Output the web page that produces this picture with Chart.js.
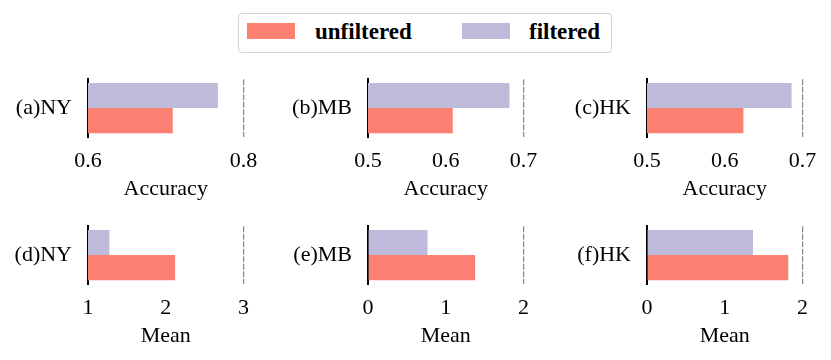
<!DOCTYPE html>
<html>
<head>
<meta charset="utf-8">
<script src="https://cdn.jsdelivr.net/npm/chart.js@4"></script>
<style>
  body { margin: 0; background: #fff; width: 831px; height: 360px; position: relative; overflow: hidden; }
  canvas { position: absolute; }
  #legend { position: absolute; left: 238px; top: 13px; width: 372px; height: 38px;
            border: 1.5px solid #d3d3d3; border-radius: 4px;
            font-family: 'Liberation Serif', 'Times New Roman', serif; font-weight: bold; font-size: 23px; }
  #legend .sw { position: absolute; top: 9px; width: 48px; height: 16px; }
  #legend .lb { position: absolute; top: 2px; line-height: 32px; }
</style>
</head>
<body>
<div id="legend">
  <div class="sw" style="left:8px;background:#fb8072"></div>
  <div class="lb" style="left:76px">unfiltered</div>
  <div class="sw" style="left:223px;background:#bebada"></div>
  <div class="lb" style="left:290px">filtered</div>
</div>
<script>
// panel data, (a)-(f)
var panelLabels = ["(a)NY", "(b)MB", "(c)HK", "(d)NY", "(e)MB", "(f)HK"];
var axisTitles = ["Accuracy", "Accuracy", "Accuracy", "Mean", "Mean", "Mean"];
var unfiltered = [0.709, 0.609, 0.624, 2.12, 1.378, 1.817];
var filtered = [0.767, 0.682, 0.686, 1.275, 0.766, 1.364];
var axisMin = [0.6, 0.5, 0.5, 1, 0, 0];
var axisMax = [0.8, 0.7, 0.7, 3, 2, 2];
var axisStep = [0.2, 0.1, 0.1, 1, 1, 1];

// the y label height (~29px) sets the top of the plot area inside each canvas
var colLeft = [0, 280, 559];
var rowTop = [50, 197];

Chart.defaults.font.family = "'Liberation Serif', 'Times New Roman', serif";
Chart.defaults.font.size = 22;
Chart.defaults.color = "#000";

function makePanel(i) {
  var canvas = document.createElement("canvas");
  canvas.width = 270;
  canvas.height = 155;
  canvas.style.left = colLeft[i % 3] + "px";
  canvas.style.top = rowTop[Math.floor(i / 3)] + "px";
  document.body.appendChild(canvas);

  new Chart(canvas.getContext("2d"), {
    type: "bar",
    data: {
      labels: [panelLabels[i]],
      datasets: [
        { label: "filtered", data: [filtered[i]], backgroundColor: "#bebada" },
        { label: "unfiltered", data: [unfiltered[i]], backgroundColor: "#fb8072" }
      ]
    },
    options: {
      responsive: false,
      animation: false,
      indexAxis: "y",
      categoryPercentage: 0.87,
      barPercentage: 1,
      layout: { padding: { top: 0, right: 26.5, bottom: 0, left: 0 } },
      plugins: { legend: { display: false }, tooltip: { enabled: false } },
      scales: {
        x: {
          min: axisMin[i],
          max: axisMax[i],
          ticks: { stepSize: axisStep[i], padding: 11 },
          grid: {
            drawTicks: false,
            lineWidth: 1.2,
            color: function (ctx) {
              return ctx.index === ctx.scale.ticks.length - 1 ? "#888" : "rgba(0,0,0,0)";
            }
          },
          border: { display: false, dash: [6, 1.5] },
          title: { display: true, text: axisTitles[i], padding: { top: 0, bottom: 3 } },
          afterFit: function (axis) { axis.height = 68; }
        },
        y: {
          ticks: { padding: 16 },
          grid: { drawTicks: false, color: "rgba(0,0,0,0)" },
          border: { display: true, color: "#000", width: 2 },
          afterFit: function (axis) { axis.width = 88; }
        }
      }
    }
  });
}

for (var i = 0; i < panelLabels.length; i++) {
  makePanel(i);
}
</script>
</body>
</html>
